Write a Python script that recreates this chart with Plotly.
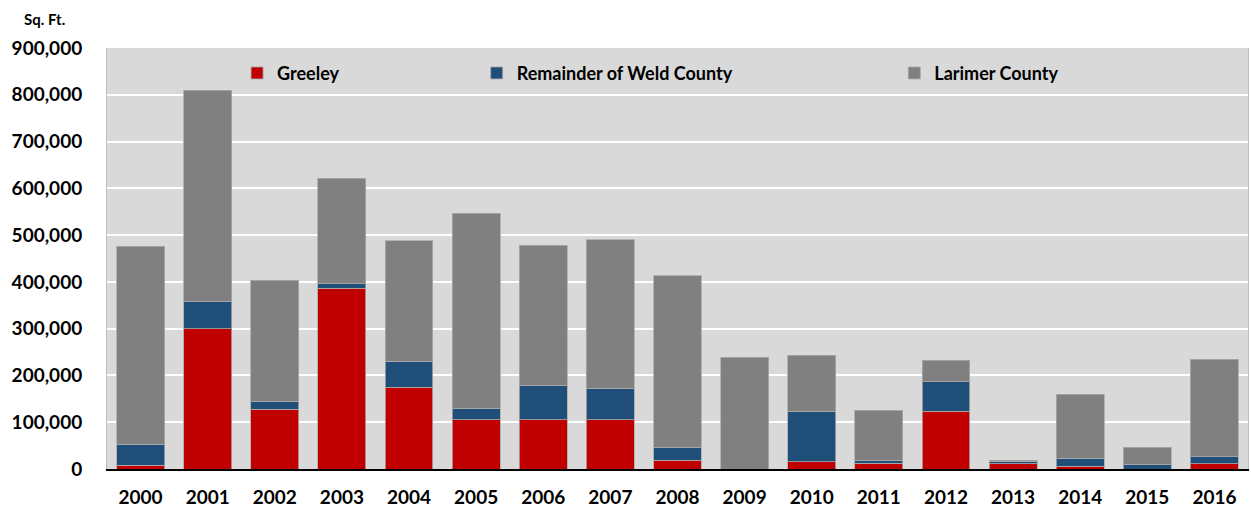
import plotly.graph_objects as go

years = ["2000", "2001", "2002", "2003", "2004", "2005", "2006", "2007", "2008",
         "2009", "2010", "2011", "2012", "2013", "2014", "2015", "2016"]
greeley = [8000, 300000, 128000, 386000, 175000, 105000, 105000, 105000, 19000,
           0, 15000, 12000, 123000, 11000, 6000, 0, 11000]
weld = [45000, 58000, 17000, 10000, 55000, 25000, 74000, 68000, 28000,
        0, 109000, 7000, 63000, 6000, 17000, 10000, 15000]
larimer = [423000, 452000, 258000, 226000, 258000, 417000, 299000, 317000, 366000,
           239000, 119000, 107000, 46000, 1500, 137000, 37000, 209000]
y_ticks = [0, 100000, 200000, 300000, 400000, 500000, 600000, 700000, 800000, 900000]

FONT = "Lato, 'Open Sans', sans-serif"
edge = dict(color="rgba(170,170,170,0.8)", width=1)

fig = go.Figure()
fig.add_trace(go.Bar(x=years, y=greeley, name="<b>Greeley</b>", showlegend=True,
                     marker=dict(color="#C00000", line=edge), legend="legend2"))
fig.add_trace(go.Bar(x=years, y=weld, name="<b>Remainder of Weld County</b>", showlegend=True,
                     marker=dict(color="#1F4E79", line=edge), legend="legend3"))
fig.add_trace(go.Bar(x=years, y=larimer, name="<b>Larimer County</b>", showlegend=True,
                     marker=dict(color="#808080", line=edge), legend="legend4"))

leg_common = dict(orientation="h", yanchor="middle", y=0.94, xanchor="left",
                  bgcolor="rgba(0,0,0,0)", font=dict(family=FONT, size=18, color="#000000"),
                  itemclick=False, visible=True)

fig.update_layout(
    width=1251, height=510,
    barmode="stack", bargap=0.286,
    showlegend=True,
    paper_bgcolor="#FFFFFF", plot_bgcolor="#D9D9D9",
    margin=dict(l=107, r=2, t=48, b=38),
    font=dict(family=FONT, color="#000000"),
    legend=dict(visible=False),
    legend2=dict(x=0.114, **leg_common),
    legend3=dict(x=0.324, **leg_common),
    legend4=dict(x=0.690, **leg_common),
    xaxis=dict(
        tickfont=dict(family=FONT, size=19, color="#000000", weight="bold"),
        showline=True, linecolor="#000000", linewidth=2,
        ticks="", showgrid=False, ticklabelstandoff=10,
    ),
    yaxis=dict(
        range=[0, 900000], tickvals=y_ticks, tickformat=",",
        tickfont=dict(family=FONT, size=19, color="#000000", weight="bold"),
        showgrid=True, gridcolor="#FFFFFF", gridwidth=2,
        zeroline=False, showline=True, linecolor="#BFBFBF", linewidth=1, mirror=True,
        ticks="", ticklabelstandoff=20,
    ),
    annotations=[dict(text="<b>Sq. Ft.</b>", xref="paper", yref="paper",
                      x=-0.0545, y=1.07, xanchor="center", yanchor="middle",
                      showarrow=False, font=dict(family=FONT, size=15, color="#000000"))],
)

fig.write_html("out.html", config={"displayModeBar": False},
               post_script="document.body.style.margin='0';")
